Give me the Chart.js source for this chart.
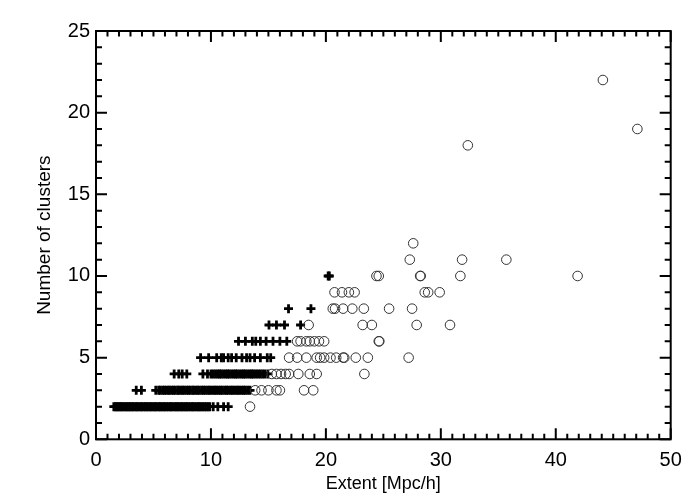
<!DOCTYPE html>
<html><head><meta charset="utf-8">
<script src="https://cdn.jsdelivr.net/npm/chart.js@4.4.1/dist/chart.umd.min.js"></script>
<style>html,body{margin:0;padding:0;background:#fff}</style>
</head><body>
<canvas id="c" width="700" height="500" style="width:700px;height:500px"></canvas>
<script>
// ---- data: "+" markers, x values (Extent) for each cluster count ----
const crossN2 = [1.55,1.7,1.8,1.95,2.05,2.2,2.3,2.45,2.6,2.7,2.85,2.95,3.1,3.2,3.35,3.5,3.6,3.75,3.9,4.0,4.15,4.3,4.4,4.55,4.7,4.8,4.95,5.1,5.2,5.35,5.5,5.6,5.75,5.9,6.0,6.15,6.3,6.45,6.55,6.7,6.85,7.0,7.1,7.25,7.4,7.5,7.65,7.8,7.9,8.05,8.2,8.35,8.45,8.6,8.75,8.9,9.0,9.15,9.3,9.45,9.6,9.75,9.9,10.2,10.6,11.1,11.5];
const crossN3 = [3.5,3.95,5.2,5.45,5.6,5.8,5.95,6.1,6.3,6.4,6.6,6.75,6.9,7.1,7.2,7.4,7.55,7.7,7.9,8.05,8.2,8.4,8.5,8.7,8.85,9.0,9.2,9.35,9.5,9.7,9.85,10.0,10.2,10.35,10.5,10.7,10.85,11.0,11.2,11.35,11.5,11.7,11.85,12.0,12.2,12.35,12.5,12.7,12.85,13.0,13.2,13.4];
const crossN4 = [6.8,7.2,7.5,7.9,9.3,9.7,10.0,10.2,10.4,10.6,10.75,10.9,11.1,11.3,11.45,11.6,11.8,12.0,12.15,12.3,12.5,12.7,12.85,13.0,13.2,13.4,13.55,13.7,13.9,14.1,14.3,14.5,14.7,14.95];
const crossN5 = [9.1,9.8,10.5,10.9,11.1,11.5,11.8,12.2,12.7,13.1,13.4,13.8,14.3,14.9,15.2];
const crossN6 = [12.4,13.0,13.6,13.9,14.3,14.8,15.4,16.0,16.6];
const crossN7 = [15.05,15.7,16.4,17.8];
const crossN8 = [16.75,18.7];
const crossN10 = [20.2,20.3];

// ---- data: "o" markers ----
const circN2 = [13.4];
const circN3 = [13.85,14.4,15.0,15.7,16.0,18.1,18.9];
const circN4 = [15.3,15.7,16.1,16.5,16.8,17.6,18.6,19.2,23.35];
const circN5 = [16.8,17.5,18.3,19.2,19.5,19.85,20.4,20.9,21.5,21.6,22.6,23.65,27.2];
const circN6 = [17.5,17.8,18.3,18.6,19.0,19.4,19.85,24.6,24.65];
const circN7 = [18.5,23.2,24.0,27.9,30.8];
const circN8 = [20.6,20.8,21.5,22.3,23.3,25.5,27.5];
const circN9 = [20.75,21.4,22.0,22.5,28.6,28.9,29.9];
const circN10 = [24.4,24.6,28.2,28.25,31.7,41.9];
const circN11 = [27.3,31.85,35.7];
const circN12 = [27.6];
const circN18 = [32.35];
const circN19 = [47.1];
const circN22 = [44.1];

// ---- axis ticks ----
const xMajorTicks = [0,10,20,30,40,50];
const yMajorTicks = [0,5,10,15,20,25];
const xMinorStep = 1;
const yMinorStep = 1;

const crossRows = [[2,crossN2],[3,crossN3],[4,crossN4],[5,crossN5],[6,crossN6],[7,crossN7],[8,crossN8],[10,crossN10]];
const circRows = [[2,circN2],[3,circN3],[4,circN4],[5,circN5],[6,circN6],[7,circN7],[8,circN8],[9,circN9],[10,circN10],[11,circN11],[12,circN12],[18,circN18],[19,circN19],[22,circN22]];
function toPoints(rows){ const out=[]; rows.forEach(([n,xs])=>xs.forEach(x=>out.push({x:x,y:n}))); return out; }

const FONT = "'Liberation Sans', Arial, Helvetica, sans-serif";

const framePlugin = {
  id:'frame',
  afterDraw(chart){
    const ctx = chart.ctx, a = chart.chartArea, xs = chart.scales.x, ys = chart.scales.y;
    ctx.save();
    ctx.strokeStyle = '#000';
    ctx.lineWidth = 2;
    ctx.strokeRect(a.left, a.top, a.right-a.left, a.bottom-a.top);
    ctx.beginPath();
    for (let v = xs.min; v <= xs.max + 1e-9; v += xMinorStep){
      const major = xMajorTicks.includes(Math.round(v));
      const L = major ? 11 : 5.5;
      const p = xs.getPixelForValue(v);
      ctx.moveTo(p, a.bottom); ctx.lineTo(p, a.bottom - L);
      ctx.moveTo(p, a.top); ctx.lineTo(p, a.top + L);
    }
    for (let v = ys.min; v <= ys.max + 1e-9; v += yMinorStep){
      const major = yMajorTicks.includes(Math.round(v));
      const L = major ? 11 : 6;
      const p = ys.getPixelForValue(v);
      ctx.moveTo(a.left, p); ctx.lineTo(a.left + L, p);
      ctx.moveTo(a.right, p); ctx.lineTo(a.right - L, p);
    }
    ctx.stroke();
    ctx.restore();
  }
};

new Chart(document.getElementById('c'), {
  type:'scatter',
  data:{ datasets:[
    { label:'extended', data: toPoints(circRows), pointStyle:'circle', pointRadius:4.8, borderWidth:1, borderColor:'#333', backgroundColor:'rgba(0,0,0,0)' },
    { label:'compact', data: toPoints(crossRows), pointStyle:'cross', pointRadius:4.5, borderWidth:2.8, borderColor:'#000', backgroundColor:'#000' }
  ]},
  options:{
    responsive:false, animation:false, devicePixelRatio:1,
    layout:{ padding:{ top:31, right:29.3, left:0, bottom:0 } },
    plugins:{ legend:{display:false}, tooltip:{enabled:false} },
    scales:{
      x:{ type:'linear', min:0, max:50,
        afterBuildTicks(s){ s.ticks = xMajorTicks.map(v=>({value:v})); },
        afterFit(s){ s.height = 60.7; },
        grid:{ display:false, drawTicks:false }, border:{ display:false },
        ticks:{ color:'#000', padding:9, font:{ family:FONT, size:20 }, maxRotation:0 },
        title:{ display:true, text:'Extent [Mpc/h]', color:'#000', font:{ family:FONT, size:18 }, padding:{ top:0, bottom:5 } }
      },
      y:{ type:'linear', min:0, max:25,
        afterBuildTicks(s){ s.ticks = yMajorTicks.map(v=>({value:v})); },
        afterFit(s){ s.width = 96; },
        grid:{ display:false, drawTicks:false }, border:{ display:false },
        ticks:{ color:'#000', padding:6, font:{ family:FONT, size:20 } },
        title:{ display:true, text:'Number of clusters', color:'#000', font:{ family:FONT, size:19 }, padding:{ top:33, bottom:0 } }
      }
    }
  },
  plugins:[framePlugin]
});
</script>
</body></html>
